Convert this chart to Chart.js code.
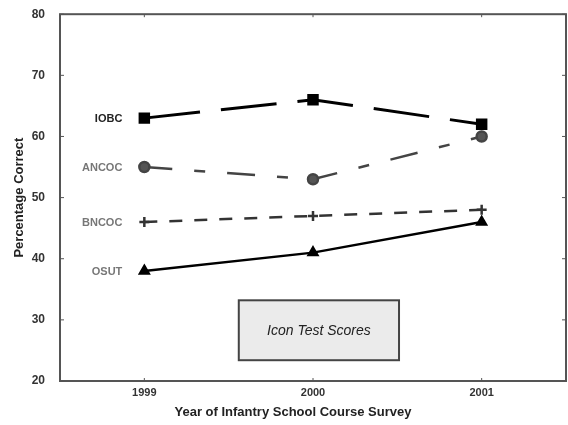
<!DOCTYPE html>
<html>
<head>
<meta charset="utf-8">
<script src="https://cdn.jsdelivr.net/npm/chart.js@4/dist/chart.umd.min.js"></script>
<style>
html,body{margin:0;padding:0;background:#fff;overflow:hidden;}
#wrap{width:568px;height:425px;position:relative;}
canvas{display:block;}
</style>
</head>
<body>
<div id="wrap"><canvas id="c" width="568" height="425"></canvas></div>
<script>
const years = [1999, 2000, 2001];
const seriesNames = ["IOBC", "ANCOC", "BNCOC", "OSUT"];
const iobc  = [63, 66, 62];
const ancoc = [55, 53, 60];
const bncoc = [46, 47, 48];
const osut  = [38, 41, 46];
const yTicks = [20, 30, 40, 50, 60, 70, 80];
const boxText = "Icon Test Scores";
const xTitle = "Year of Infantry School Course Survey";

const FONT = '"Liberation Sans", Arial, sans-serif';
function pts(vals){ return years.map((y,i)=>({x:y, y:vals[i]})); }

const decor = {
  id: 'decor',
  afterDatasetsDraw(chart){
    const {ctx, chartArea:a, scales:{x, y}} = chart;
    ctx.save();
    // frame
    ctx.strokeStyle = '#555';
    ctx.lineWidth = 2;
    ctx.strokeRect(a.left, a.top, a.right - a.left, a.bottom - a.top);
    // inward ticks
    ctx.lineWidth = 1;
    years.forEach(v => {
      const px = x.getPixelForValue(v);
      ctx.beginPath();
      ctx.moveTo(px, a.bottom); ctx.lineTo(px, a.bottom - 3);
      ctx.moveTo(px, a.top); ctx.lineTo(px, a.top + 3);
      ctx.stroke();
    });
    yTicks.forEach(v => {
      const py = y.getPixelForValue(v);
      ctx.beginPath();
      ctx.moveTo(a.left, py); ctx.lineTo(a.left + 4, py);
      ctx.moveTo(a.right, py); ctx.lineTo(a.right - 4, py);
      ctx.stroke();
    });
    // x tick labels
    ctx.fillStyle = '#333';
    ctx.font = 'bold 11px ' + FONT;
    ctx.textAlign = 'center';
    ctx.textBaseline = 'top';
    years.forEach(v => ctx.fillText(String(v), x.getPixelForValue(v), a.bottom + 6));
    // x axis title (slightly left of centre, as in the original)
    ctx.fillStyle = '#222';
    ctx.font = 'bold 13px ' + FONT;
    ctx.textBaseline = 'middle';
    ctx.fillText(xTitle, x.getPixelForValue(2000) - 20, a.bottom + 31);
    // series labels
    ctx.font = 'bold 11px ' + FONT;
    ctx.textAlign = 'right';
    chart.data.datasets.forEach((ds, i) => {
      const p = ds.data[0];
      ctx.fillStyle = i === 0 ? '#222' : '#777';
      ctx.fillText(ds.label, x.getPixelForValue(p.x) - 22, y.getPixelForValue(p.y) + 1);
    });
    // text box
    const bx0 = x.getPixelForValue(1999.56), bx1 = x.getPixelForValue(2000.51);
    const by0 = y.getPixelForValue(33.2), by1 = y.getPixelForValue(23.4);
    ctx.fillStyle = '#ebebeb';
    ctx.fillRect(bx0, by0, bx1 - bx0, by1 - by0);
    ctx.strokeStyle = '#444';
    ctx.lineWidth = 2;
    ctx.strokeRect(bx0, by0, bx1 - bx0, by1 - by0);
    ctx.fillStyle = '#222';
    ctx.textAlign = 'center';
    ctx.font = 'italic 14px ' + FONT;
    ctx.fillText(boxText, (bx0 + bx1) / 2, (by0 + by1) / 2 + 1);
    ctx.restore();
  }
};

new Chart(document.getElementById('c'), {
  type: 'line',
  data: {
    datasets: [
      { label: seriesNames[0], data: pts(iobc), borderColor: '#000', backgroundColor: '#000',
        borderWidth: 3, borderDash: [56, 21], pointStyle: 'rect', pointRadius: 6 },
      { label: seriesNames[1], data: pts(ancoc), borderColor: '#444', backgroundColor: '#555',
        borderWidth: 2.5, borderDash: [28, 22, 11, 22], pointStyle: 'circle', pointRadius: 5 },
      { label: seriesNames[2], data: pts(bncoc), borderColor: '#333', backgroundColor: '#333',
        borderWidth: 2.5, borderDash: [13, 12], pointStyle: 'cross', pointRadius: 5, pointBorderWidth: 2.5 },
      { label: seriesNames[3], data: pts(osut), borderColor: '#000', backgroundColor: '#000',
        borderWidth: 2.5, pointStyle: 'triangle', pointRadius: 5 }
    ]
  },
  options: {
    responsive: false,
    animation: false,
    layout: { autoPadding: false, padding: { top: 14, right: 2, left: 0, bottom: 0 } },
    plugins: { legend: { display: false }, tooltip: { enabled: false } },
    scales: {
      x: {
        type: 'linear', min: 1998.5, max: 2001.5,
        afterBuildTicks: s => { s.ticks = years.map(v => ({ value: v })); },
        afterFit: s => { s.height = 44; },
        grid: { display: false }, border: { display: false },
        ticks: { display: false },
        title: { display: false }
      },
      y: {
        min: 20, max: 80,
        afterBuildTicks: s => { s.ticks = yTicks.map(v => ({ value: v })); },
        afterFit: s => { s.width = 60; },
        grid: { display: false }, border: { display: false },
        ticks: { color: '#333', font: { family: FONT, size: 12, weight: 'bold' }, padding: 7 },
        title: { display: true, text: 'Percentage Correct', color: '#222',
                 font: { family: FONT, size: 13, weight: 'bold' }, padding: { top: 12, bottom: 8 } }
      }
    }
  },
  plugins: [decor]
});
</script>
</body>
</html>
